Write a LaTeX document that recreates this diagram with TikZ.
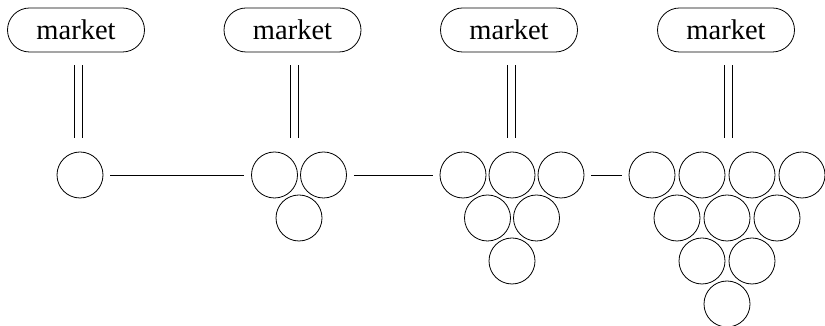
\documentclass[tikz,border=0pt]{standalone}
\usepackage{fontspec}
\setmainfont{Liberation Serif}
\usetikzlibrary{shapes.misc}
\begin{document}
\begin{tikzpicture}[x=1pt, y=1pt, line width=0.8pt,
        firm/.style = {draw, circle, minimum size=46pt, inner sep=0pt},
        market/.style = {draw, rounded rectangle, minimum width=137pt, minimum height=44pt, inner sep=0pt, font=\fontsize{28.5}{32}\selectfont},
        rail/.style = {shorten <=13pt},
        link/.style = {shorten <=7pt, shorten >=7pt}]
        \useasboundingbox (0,0) rectangle (825,326);
        \node[market] (m1) at (76,296) {market};
        \node[market] (m2) at (292.5,296) {market};
        \node[market] (m3) at (509,296) {market};
        \node[market] (m4) at (726,296) {market};
        \coordinate (j1) at (78,188);
        \coordinate (j2) at (294,188);
        \coordinate (j3) at (511.5,188);
        \coordinate (j4) at (728,188);
        \foreach \n/\x/\d in {1/80/49, 2/274.5/49, 3/463/49, 4/652/50} {
            \foreach \r in {1,...,\n} {
                \pgfmathtruncatemacro\k{\n-\r+1}
                \foreach \i in {1,...,\k}
                    \node[firm] (g\n-\r-\i) at ({\x+(\r-1)*\d/2+(\i-1)*\d}, {151-(\r-1)*43}) {};
            }
        }
        \foreach \m in {1,2,3,4} {
            \draw[rail] ([xshift=-4pt]j\m |- m\m.south) to ([xshift=-4pt]j\m);
            \draw[rail] ([xshift=4pt]j\m |- m\m.south) to ([xshift=4pt]j\m);
        }
        \draw[link] (g1-1-1) to (g2-1-1);
        \draw[link] (g2-1-2) to (g3-1-1);
        \draw[link] (g3-1-3) to (g4-1-1);
\end{tikzpicture}
\end{document}
